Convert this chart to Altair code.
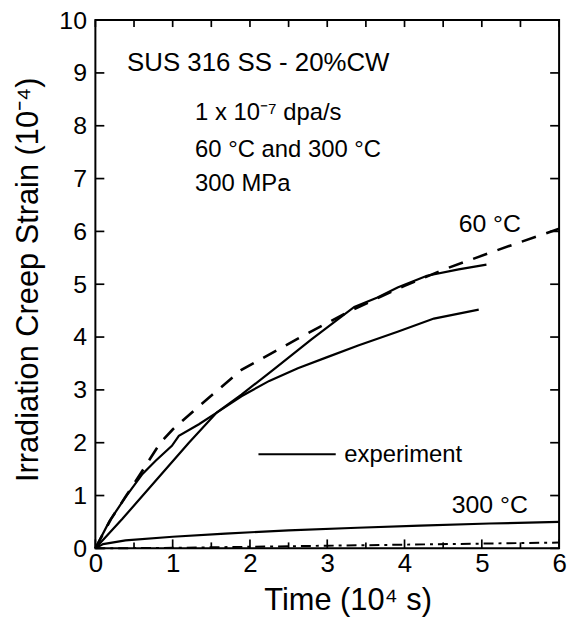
import altair as alt
import pandas as pd

# ---------------- data (time in 10^4 s, strain in 10^-4) ----------------
# 60 °C experiment, curve reaching ~5.4
exp60a_t = [0, 0.35, 0.78, 1.21, 1.57, 1.89, 2.3, 2.8, 3.35, 3.65, 3.91, 4.29, 4.7, 5.06]
exp60a_s = [0, 0.56, 1.28, 2.0, 2.57, 2.91, 3.38, 3.96, 4.57, 4.75, 4.94, 5.16, 5.28, 5.37]
# 60 °C experiment, curve reaching ~4.5
exp60b_t = [0, 0.18, 0.39, 0.61, 0.78, 0.99, 1.08, 1.34, 1.57, 1.89, 2.25, 2.62, 3.0, 3.4, 3.91, 4.38, 4.96]
exp60b_s = [0, 0.51, 0.97, 1.41, 1.66, 1.94, 2.13, 2.35, 2.57, 2.88, 3.17, 3.41, 3.62, 3.84, 4.10, 4.35, 4.52]
# 60 °C calculation (dashed)
calc60_t = [0, 0.2, 0.4, 0.6, 0.84, 1.0, 1.34, 1.89, 2.62, 3.26, 4.0, 4.51, 5.19, 5.88, 6.0]
calc60_s = [0, 0.55, 1.0, 1.45, 2.0, 2.25, 2.69, 3.38, 3.97, 4.47, 4.97, 5.28, 5.64, 5.99, 6.05]
# 300 °C experiment
exp300_t = [0, 0.1, 0.39, 1.0, 1.68, 2.5, 3.39, 4.2, 5.1, 6.0]
exp300_s = [0, 0.08, 0.15, 0.22, 0.28, 0.34, 0.39, 0.43, 0.47, 0.50]
# 300 °C calculation (dash-dot)
calc300_t = [0, 1, 2, 3, 4, 5, 6]
calc300_s = [0, 0.01, 0.03, 0.05, 0.07, 0.09, 0.11]

# axis ticks
x_major = [0, 1, 2, 3, 4, 5, 6]
x_minor = [0.5, 1.5, 2.5, 3.5, 4.5, 5.5]
y_major = [0, 1, 2, 3, 4, 5, 6, 7, 8, 9, 10]

# annotations
ann_text = ["SUS 316 SS - 20%CW", "1 x 10\u207b\u2077 dpa/s", "60 \u00b0C and 300 \u00b0C",
            "300 MPa", "60 \u00b0C", "300 \u00b0C", "experiment"]
ann_t = [0.41, 1.29, 1.29, 1.29, 4.70, 4.61, 3.22]
ann_s = [9.04, 8.10, 7.41, 6.77, 5.98, 0.66, 1.63]
ann_fs = [26, 24, 24, 24, 25, 25, 24]

legend_t1 = [2.11]
legend_t2 = [3.11]
legend_s = [1.78]

# ---------------- chart ----------------
W, H = 467, 532
FONT = "Liberation Sans"
xscale = alt.Scale(domain=[0, 6], nice=False, zero=False)
yscale = alt.Scale(domain=[0, 10], nice=False, zero=False)

x_axis = alt.Axis(values=x_major, format="d", title="Time  (10\u2074 s)",
                  grid=False, ticks=False, tickSize=0, domain=False,
                  labelFont=FONT, labelFontSize=26, labelColor="black",
                  labelPadding=2, labelFlush=False, labelOverlap=False,
                  titleFont=FONT, titleFontSize=31, titleFontWeight="normal",
                  titleColor="black", titleX=254, titleY=62,
                  titleBaseline="alphabetic", titleAlign="center")
y_axis = alt.Axis(values=y_major, format="d", title="Irradiation Creep Strain  (10\u207b\u2074)",
                  grid=False, ticks=False, tickSize=0, domain=False,
                  labelFont=FONT, labelFontSize=25, labelColor="black",
                  labelPadding=9, labelFlush=False, labelOverlap=False,
                  titleFont=FONT, titleFontSize=31, titleFontWeight="normal",
                  titleColor="black", titleAngle=270, titleX=-58, titleY=261,
                  titleBaseline="alphabetic", titleAlign="center")


def X(field):
    return alt.X(field, type="quantitative", scale=xscale, axis=x_axis)


def Y(field):
    return alt.Y(field, type="quantitative", scale=yscale, axis=y_axis)


def line(ts, ss, **kw):
    df = pd.DataFrame({"t": ts, "s": ss})
    return alt.Chart(df).mark_line(color="black", **kw).encode(x=X("t"), y=Y("s"))


l_a = line(exp60a_t, exp60a_s, strokeWidth=2.2)
l_b = line(exp60b_t, exp60b_s, strokeWidth=2.2)
l_c = line(calc60_t, calc60_s, strokeWidth=2.6, strokeDash=[15, 11])
l_d = line(exp300_t, exp300_s, strokeWidth=2.2)
l_e = line(calc300_t, calc300_s, strokeWidth=2.0, strokeDash=[10, 5, 3, 5])

PX_X = 6 / W      # data units per pixel, x
PX_Y = 10 / H     # data units per pixel, y


def xticks(vals, s0, s1):
    df = pd.DataFrame({"t": vals, "s0": [s0] * len(vals), "s1": [s1] * len(vals)})
    return alt.Chart(df).mark_rule(color="black", strokeWidth=1.7).encode(
        x=X("t"), y=Y("s0"), y2="s1:Q")


def yticks(vals, t0, t1):
    df = pd.DataFrame({"s": vals, "t0": [t0] * len(vals), "t1": [t1] * len(vals)})
    return alt.Chart(df).mark_rule(color="black", strokeWidth=1.7).encode(
        y=Y("s"), x=X("t0"), x2="t1:Q")


ticks = [
    xticks(x_major, 0, 9 * PX_Y),
    xticks(x_minor, 0, 6 * PX_Y),
    xticks(x_major + x_minor, 10, 10 - 7 * PX_Y),
    yticks(y_major, 0, 9 * PX_X),
    yticks(y_major, 6, 6 - 9 * PX_X),
]

ann_df = pd.DataFrame({"txt": ann_text, "t": ann_t, "s": ann_s, "fs": ann_fs})
ann = alt.Chart(ann_df).mark_text(align="left", baseline="alphabetic", font=FONT, color="black").encode(
    x=X("t"),
    y=Y("s"),
    text="txt:N",
    size=alt.Size("fs:Q", scale=None, legend=None),
)

leg_df = pd.DataFrame({"t1": legend_t1, "t2": legend_t2, "s": legend_s})
leg = alt.Chart(leg_df).mark_rule(color="black", strokeWidth=2).encode(
    x=X("t1"),
    x2="t2:Q",
    y=Y("s"),
)

chart = alt.layer(l_a, l_b, l_c, l_d, l_e, *ticks, ann, leg).properties(
    width=W, height=H,
    autosize=alt.AutoSizeParams(type="none"),
    padding={"left": 88, "top": 10, "right": 14, "bottom": 75},
    background="white",
).configure_view(stroke="black", strokeWidth=2)

chart.save("out.html", embed_options={"renderer": "svg", "actions": False})
